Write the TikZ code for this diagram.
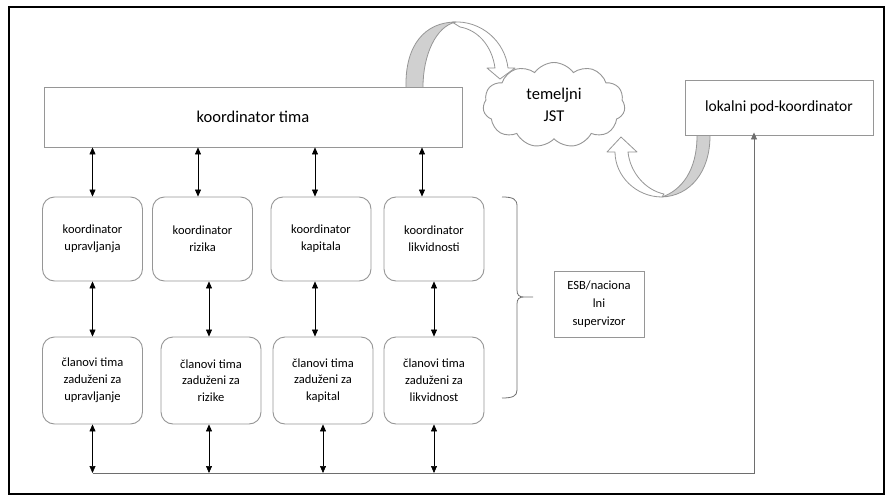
\documentclass[tikz,border=0pt]{standalone}
\usepackage{fontspec}
\setmainfont{Carlito}
\usetikzlibrary{shapes.symbols,arrows.meta}
\definecolor{boxgray}{RGB}{150,150,150}
\definecolor{bandgray}{RGB}{208,208,208}
\definecolor{linegray}{RGB}{110,110,110}
\begin{document}
\begin{tikzpicture}[x=1pt,y=-1pt,
  box/.style={draw=boxgray,line width=0.9pt,fill=white,rounded corners=12pt,minimum width=100pt,align=center,inner sep=0pt,font=\fontsize{12.5}{16.8}\selectfont},
  sqbox/.style={draw=boxgray,line width=0.9pt,fill=white,align=center,inner sep=0pt},
  tip/.tip={Triangle[length=7pt,width=6pt]},
  arr/.style={tip-tip,line width=0.6pt,draw=black},
  busline/.style={line width=0.8pt,draw=linegray},
  band/.style={draw=boxgray,line width=0.8pt,line join=round}
]
\useasboundingbox (0,0) rectangle (892,495);
\draw[line width=1.6pt] (9,7) rectangle (884,494);

% main nodes
\node[sqbox,minimum width=418pt,minimum height=60pt,font=\fontsize{16.5}{18}\selectfont] (k) at (253,117) {koordinator tima};
\node[sqbox,minimum width=188pt,minimum height=55pt,font=\fontsize{15.5}{18}\selectfont] (l) at (779,107.5) {lokalni pod-koordinator};
\node[sqbox,minimum width=90pt,minimum height=66pt,font=\fontsize{12.5}{18}\selectfont] (e) at (599,304) {ESB/naciona\\lni\\supervizor};
\node[cloud,cloud puffs=11,cloud puff arc=110,aspect=1.7,draw=boxgray,line width=0.9pt,fill=white,minimum width=142pt,minimum height=85pt,inner sep=0pt,align=center,font=\fontsize{16.5}{22}\selectfont] (j) at (554,105) {temeljni\\JST};

\node[box,minimum height=84pt] (c1) at (92.5,239) {koordinator\\upravljanja};
\node[box,minimum height=84pt] (c2) at (202.5,239) {koordinator\\rizika};
\node[box,minimum height=84pt] (c3) at (321,239) {koordinator\\kapitala};
\node[box,minimum height=84pt] (c4) at (434,239) {koordinator\\likvidnosti};

\node[box,minimum height=87pt] (m1) at (92.5,380.5) {članovi tima\\zaduženi za\\upravljanje};
\node[box,minimum height=87pt] (m2) at (211,380.5) {članovi tima\\zaduženi za\\rizike};
\node[box,minimum height=87pt] (m3) at (323,380.5) {članovi tima\\zaduženi za\\kapital};
\node[box,minimum height=87pt] (m4) at (434,380.5) {članovi tima\\zaduženi za\\likvidnost};

% arrows koordinator tima -> coordinators
\draw[arr] (k.south -| c1.north) -- (c1.north);
\draw[arr] ([xshift=-4.5pt]c2.north |- k.south) -- ([xshift=-4.5pt]c2.north);
\draw[arr] ([xshift=-6pt]c3.north |- k.south) -- ([xshift=-6pt]c3.north);
\draw[arr] ([xshift=-12pt]c4.north |- k.south) -- ([xshift=-12pt]c4.north);

% arrows coordinators -> members
\draw[arr] (c1.south) -- (c1.south |- m1.north);
\draw[arr] ([xshift=6.5pt]c2.south) -- ([xshift=6.5pt]c2.south |- m2.north);
\draw[arr] ([xshift=-6pt]c3.south) -- ([xshift=-6pt]c3.south |- m3.north);
\draw[arr] (c4.south) -- (c4.south |- m4.north);

% bus
\coordinate (bus) at (92,473);
\draw[arr] (m1.south) -- (m1.south |- bus);
\draw[arr] ([xshift=-2pt]m2.south) -- ([xshift=-2pt]m2.south |- bus);
\draw[arr] (m3.south) -- (m3.south |- bus);
\draw[arr] (m4.south) -- (m4.south |- bus);
\draw[busline,-tip] (m1.south |- bus) -- ([xshift=-25pt]l.south |- bus) -- ([xshift=-25pt,yshift=3pt]l.south);

% brace
\draw[draw=linegray,line width=0.8pt] (502,197) .. controls (513,197) and (517,199) .. (517,206) -- (517,290)
  .. controls (517,295) and (519,297) .. (524,297) -- (533,297)
  (524,297) .. controls (519,297) and (517,299) .. (517,304) -- (517,390)
  .. controls (517,396) and (513,398) .. (502,398);

% curved arrow from koordinator tima to cloud
\filldraw[band,fill=white] (452,22) .. controls (482,20) and (505,42) .. (508,68) -- (515,68) -- (500,79) -- (487,68) -- (495,68)
  .. controls (492,46) and (478,30) .. (460,27) -- cycle;
\filldraw[band,fill=bandgray] (406,87) .. controls (405,45) and (425,22) .. (456,22)
  .. controls (436,26) and (423,55) .. (423,87);

% curved arrow from lokalni pod-koordinator to cloud
\filldraw[band,fill=white] (662,197) .. controls (636,197) and (615,176) .. (615,152) -- (607,152) -- (621,137) -- (637,152) -- (628,152)
  .. controls (630,172) and (645,190) .. (664,194) -- cycle;
\filldraw[band,fill=bandgray] (710,136) .. controls (710,172) and (690,196) .. (662,197)
  .. controls (682,190) and (697,170) .. (697,136);
\end{tikzpicture}
\end{document}
